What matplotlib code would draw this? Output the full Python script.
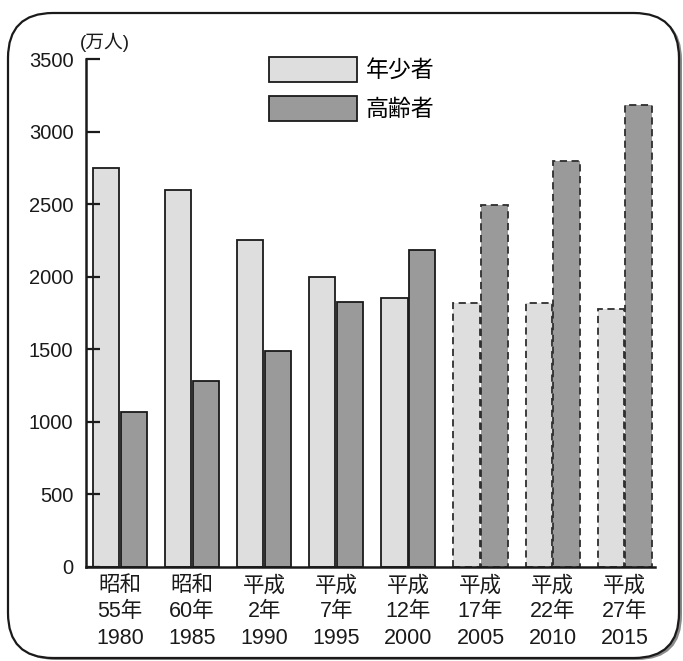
import matplotlib
matplotlib.use("Agg")
import matplotlib.pyplot as plt
import numpy as np
from matplotlib.patches import FancyBboxPatch, Patch

plt.rcParams['font.family'] = ['Liberation Sans', 'Noto Sans CJK JP', 'DejaVu Sans']

# population by age group (10,000 people)
eras = ['昭和', '昭和', '平成', '平成', '平成', '平成', '平成', '平成']
era_years = ['55年', '60年', '2年', '7年', '12年', '17年', '22年', '27年']
years = ['1980', '1985', '1990', '1995', '2000', '2005', '2010', '2015']
young = [2750, 2600, 2250, 2000, 1855, 1820, 1820, 1780]
elderly = [1065, 1280, 1490, 1825, 2185, 2495, 2800, 3185]
projected = [False, False, False, False, False, True, True, True]

W, H = 683, 661
fig = plt.figure(figsize=(W / 100, H / 100), dpi=100)

# rounded frame with a soft shadow, drawn in pixel coordinates
bg = fig.add_axes([0, 0, 1, 1], zorder=0)
bg.set_xlim(0, W)
bg.set_ylim(H, 0)
bg.axis('off')
shadow = FancyBboxPatch((11, 15), 671, 645, boxstyle='round,pad=0,rounding_size=45',
                        facecolor='#8a8a8a', edgecolor='none')
frame = FancyBboxPatch((8, 13), 671, 645, boxstyle='round,pad=0,rounding_size=45',
                       facecolor='white', edgecolor='#1a1a1a', linewidth=1.6)
bg.add_patch(shadow)
bg.add_patch(frame)

ax = fig.add_axes([86 / W, 1 - 567 / H, 569 / W, 508 / H], zorder=1)
ax.patch.set_alpha(0)

x = np.arange(len(years))
w = 0.365
off = 0.193
young_c = '#dedede'
old_c = '#9a9a9a'

for i in x:
    ls = (0, (4, 2.5)) if projected[i] else 'solid'
    ec = '#2e2e2e' if projected[i] else '#1a1a1a'
    ax.bar(i - off, young[i], w, color=young_c, edgecolor=ec, linewidth=1.3, linestyle=ls)
    ax.bar(i + off, elderly[i], w, color=old_c, edgecolor=ec, linewidth=1.3, linestyle=ls)

ax.set_xlim(-0.47, 7.42)
ax.set_ylim(0, 3500)
ax.set_yticks(np.arange(0, 3501, 500))
ax.tick_params(axis='y', direction='in', length=10, width=1.6, pad=9, labelsize=14.5,
               colors='#1a1a1a')
ax.set_xticks(x)
ax.set_xticklabels([f'{e}\n{n}\n{y}' for e, n, y in zip(eras, era_years, years)],
                   fontsize=15.5, linespacing=1.32, color='#1a1a1a')
ax.tick_params(axis='x', length=0, pad=6)

for s in ['top', 'right']:
    ax.spines[s].set_visible(False)
for s in ['left', 'bottom']:
    ax.spines[s].set_linewidth(1.8)
    ax.spines[s].set_color('#1a1a1a')

fig.text(80 / W, 1 - 42 / H, '(万人)', fontsize=13.5, va='center', ha='left', color='#1a1a1a')

handles = [Patch(facecolor=young_c, edgecolor='#1a1a1a', linewidth=1.3, label='年少者'),
           Patch(facecolor=old_c, edgecolor='#1a1a1a', linewidth=1.3, label='高齢者')]
fig.legend(handles=handles, loc='upper left', bbox_to_anchor=(269 / W, 1 - 57 / H),
           frameon=False, fontsize=16.5, handlelength=3.85, handleheight=1.3,
           handletextpad=0.36, labelspacing=0.6, borderpad=0, borderaxespad=0)

fig.savefig('out.png', dpi=100)
